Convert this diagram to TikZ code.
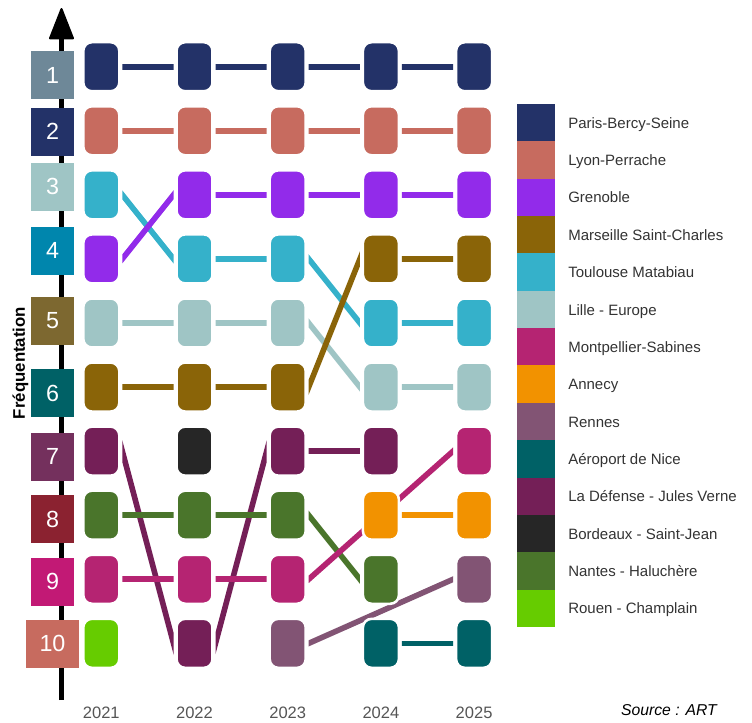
\documentclass[tikz,border=0pt]{standalone}
\usepackage{fontspec}
\setmainfont{Liberation Sans}
\usetikzlibrary{calc}
\pgfdeclarelayer{bg}
\pgfsetlayers{bg,main}
\definecolor{cParis}{HTML}{233268}
\definecolor{cLyon}{HTML}{C76B5F}
\definecolor{cGrenoble}{HTML}{922BEA}
\definecolor{cMarseille}{HTML}{8A6408}
\definecolor{cToulouse}{HTML}{35B1CA}
\definecolor{cLille}{HTML}{9FC5C5}
\definecolor{cMontpellier}{HTML}{B52472}
\definecolor{cAnnecy}{HTML}{F29200}
\definecolor{cRennes}{HTML}{825474}
\definecolor{cNice}{HTML}{006166}
\definecolor{cDefense}{HTML}{741F57}
\definecolor{cBordeaux}{HTML}{262626}
\definecolor{cNantes}{HTML}{4A752B}
\definecolor{cRouen}{HTML}{66CC00}
\definecolor{rk1}{HTML}{6E8898}
\definecolor{rk2}{HTML}{233268}
\definecolor{rk3}{HTML}{9FC5C5}
\definecolor{rk4}{HTML}{0086AD}
\definecolor{rk5}{HTML}{7D6830}
\definecolor{rk6}{HTML}{006166}
\definecolor{rk7}{HTML}{74305D}
\definecolor{rk8}{HTML}{8B2230}
\definecolor{rk9}{HTML}{C21975}
\definecolor{rk10}{HTML}{C76B5F}
\definecolor{txtgray}{HTML}{333333}
\definecolor{yrgray}{HTML}{555555}
\tikzset{
  stbox/.style={rectangle, rounded corners=6.5pt, draw=white, line width=1.9pt,
    minimum width=27pt, minimum height=36.75pt, inner sep=0pt, outer sep=0pt},
  rankbox/.style={rectangle, minimum width=32.25pt, minimum height=36pt, inner sep=0pt,
    text=white, font=\fontsize{17.5pt}{17.5pt}\selectfont},
  legsw/.style={rectangle, minimum width=28.5pt, minimum height=28.1pt, inner sep=0pt, outer sep=0pt},
  legtxt/.style={anchor=base west, inner sep=0pt, text=txtgray, font=\fontsize{11.25pt}{13pt}\selectfont},
  yrlab/.style={anchor=base, inner sep=0pt, text=yrgray, font=\fontsize{12.4pt}{14pt}\selectfont},
  conn/.style={line width=4.2pt}
}
\newcommand\stcol[2]{%
  \foreach \s [count=\r] in {#2} {%
    \node[stbox, fill=c\s] (\s-#1) at ({101.3+93.2*#1},{66.7+64.07*(\r-1)}) {};
  }%
}
\newcommand\stlink[3]{%
  \begin{scope}
    \path ($(#2.center)+(21,0)$) coordinate (la) ($(#3.center)+(-21,0)$) coordinate (lb);
    \clip (la |- ctop) rectangle (lb |- cbot);
    \draw[conn, c#1] ($(la)!-14pt!(lb)$) -- ($(lb)!-14pt!(la)$);
  \end{scope}%
}
\begin{document}
\begin{tikzpicture}[x=0.75pt, y=-0.75pt]
\useasboundingbox (0,0) rectangle (752,722);
\coordinate (ctop) at (0,0);
\coordinate (cbot) at (0,722);
% axis
\coordinate (axb) at (61.5,700);
\coordinate (axt) at (61.5,37);
\draw[line width=3.5pt] (axb) -- (axt);
\filldraw[line width=1.5pt, line join=round] (61.5,9) -- (50,38.3) -- (73,38.3) -- cycle;
% rank labels
\foreach \n/\yy in {1/75,2/131.5,3/186.5,4/250.5,5/320.5,6/393,7/456.5,8/519,9/581.5} {
  \node[rankbox, fill=rk\n] (rank\n) at (52.5,\yy) {\n};
}
\node[rankbox, fill=rk10, minimum width=39.75pt] (rank10) at (52.5,643.5) {10};
\node[rotate=90, font=\bfseries\fontsize{12.6pt}{14pt}\selectfont] (ylab) at (20.5,363) {Fréquentation};
% station boxes
\stcol{0}{Paris,Lyon,Toulouse,Grenoble,Lille,Marseille,Defense,Nantes,Montpellier,Rouen}
\stcol{1}{Paris,Lyon,Grenoble,Toulouse,Lille,Marseille,Bordeaux,Nantes,Montpellier,Defense}
\stcol{2}{Paris,Lyon,Grenoble,Toulouse,Lille,Marseille,Defense,Nantes,Montpellier,Rennes}
\stcol{3}{Paris,Lyon,Grenoble,Marseille,Toulouse,Lille,Defense,Annecy,Nantes,Nice}
\stcol{4}{Paris,Lyon,Grenoble,Marseille,Toulouse,Lille,Montpellier,Annecy,Rennes,Nice}
% connectors
\begin{pgfonlayer}{bg}
  \foreach \s in {Toulouse,Grenoble,Defense} {\stlink{\s}{\s-0}{\s-1}}
  \stlink{Defense}{Defense-1}{Defense-2}
  \foreach \s in {Lille,Toulouse,Marseille,Nantes} {\stlink{\s}{\s-2}{\s-3}}
  \foreach \s in {Montpellier,Rennes} {\stlink{\s}{\s-2}{\s-4}}
  \foreach \s in {Paris,Lyon,Lille,Marseille,Nantes,Montpellier} {\stlink{\s}{\s-0}{\s-1}}
  \foreach \s in {Paris,Lyon,Grenoble,Toulouse,Lille,Marseille,Nantes,Montpellier} {\stlink{\s}{\s-1}{\s-2}}
  \foreach \s in {Paris,Lyon,Grenoble,Defense} {\stlink{\s}{\s-2}{\s-3}}
  \foreach \s in {Paris,Lyon,Grenoble,Marseille,Toulouse,Lille,Annecy,Nice} {\stlink{\s}{\s-3}{\s-4}}
\end{pgfonlayer}
% years
\foreach \yv [count=\i from 0] in {2021,2022,2023,2024,2025} {
  \node[yrlab] (year\yv) at ({101.3+93.2*\i},718) {\yv};
}
% legend
\foreach \k/\lab [count=\i from 0] in {Paris/Paris-Bercy-Seine, Lyon/Lyon-Perrache, Grenoble/Grenoble,
  Marseille/Marseille Saint-Charles, Toulouse/Toulouse Matabiau, Lille/Lille - Europe,
  Montpellier/Montpellier-Sabines, Annecy/Annecy, Rennes/Rennes, Nice/Aéroport de Nice,
  Defense/La Défense - Jules Verne, Bordeaux/Bordeaux - Saint-Jean, Nantes/Nantes - Haluchère,
  Rouen/Rouen - Champlain} {
  \node[legsw, fill=c\k] (sw\i) at (536,{122.7+37.36*\i}) {};
  \node[legtxt] (lt\i) at (568,{128.2+37.36*\i}) {\lab};
}
\node[anchor=base east, inner sep=0pt, font=\itshape\fontsize{11.8pt}{14pt}\selectfont] (src) at (717,715.5) {Source : ART};
\end{tikzpicture}
\end{document}
